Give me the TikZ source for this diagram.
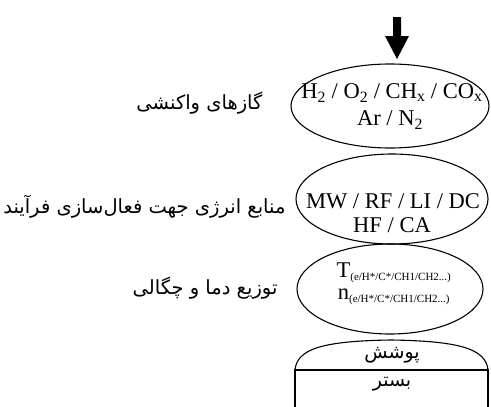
\documentclass[tikz,border=0pt]{standalone}
\usepackage{fontspec}
\setmainfont{Liberation Serif}
\newfontfamily\fafont[Script=Arabic]{DejaVu Sans}
\TeXXeTstate=1
\usetikzlibrary{shapes.geometric,arrows.meta}
\begin{document}
\begin{tikzpicture}[x=1pt,y=-1pt,
  stage/.style={draw,line width=1.1pt,ellipse,inner sep=0pt},
  lat/.style={font=\fontsize{22.5}{26}\selectfont,align=center},
  falabel/.style={font=\fafont\fontsize{19.5}{22}\selectfont,anchor=east},
  fabox/.style={font=\fafont\fontsize{19}{22}\selectfont}]
\useasboundingbox (0,0) rectangle (491,407);
% feed arrow
\fill (393,17) -- (401,17) -- (401,36) -- (409,36) -- (397,59) -- (385,36) -- (393,36) -- cycle;
% stages
\node[stage,minimum width=198pt,minimum height=84pt] (gas) at (390,106) {};
\node[lat] (gas1) at (392,93) {H\textsubscript{2} / O\textsubscript{2} / CH\textsubscript{x} / CO\textsubscript{x}};
\node[lat] (gas2) at (390,120) {Ar / N\textsubscript{2}};
\node[stage,minimum width=192pt,minimum height=90pt] (src) at (392,199) {};
\node[lat] (src1) at (393,201) {MW / RF / LI / DC};
\node[lat] (src2) at (392,225) {HF / CA};
\node[stage,minimum width=186pt,minimum height=90pt] (dist) at (390,289) {};
\node[lat] (dist1) at (394,273) {T\textsubscript{\fontsize{11}{12}\selectfont(e/H*/C*/CH1/CH2...)}};
\node[lat] (dist2) at (394,297) {n\textsubscript{\fontsize{11}{12}\selectfont(e/H*/C*/CH1/CH2...)}};
% coating and substrate
\coordinate (capL) at (295,370);
\coordinate (capR) at (488,370);
\coordinate (capT) at (391,340);
\draw[line width=1.1pt] (capL) .. controls (297,349) and (322,341) .. (capT)
                              .. controls (460,341) and (486,349) .. (capR);
\draw[line width=1.1pt] (295,407) -- (capL) -- (capR) -- (488,407);
\node[fabox] (coat) at (392,355) {\beginR پوشش\endR};
\node[fabox] (sub) at (392,384) {\beginR بستر\endR};
% side labels
\node[falabel] (l1) at (266,103) {\beginR گازهای واکنشی\endR};
\node[falabel] (l2) at (289,207) {\beginR منابع انرژی جهت فعال‌سازی فرآیند\endR};
\node[falabel] (l3) at (281,288) {\beginR توزیع دما و چگالی\endR};
\end{tikzpicture}
\end{document}
